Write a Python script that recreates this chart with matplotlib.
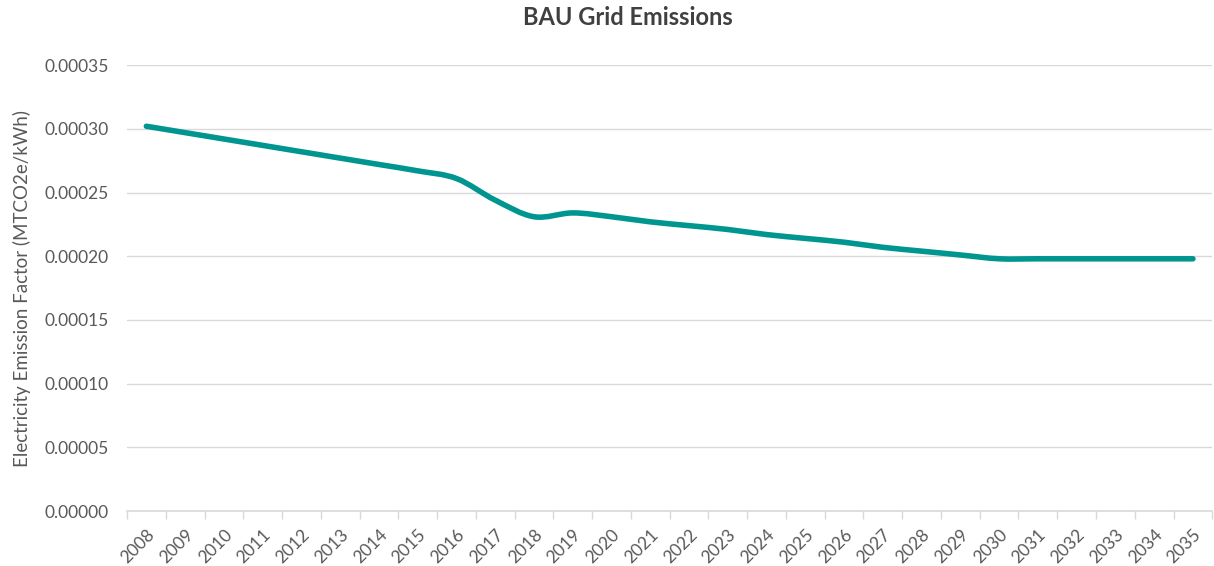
import numpy as np
import matplotlib.pyplot as plt
from matplotlib.path import Path
from matplotlib.patches import PathPatch
from matplotlib.ticker import FuncFormatter

years = list(range(2008, 2036))
emission_factor = [
    0.000302, 0.000297, 0.000292, 0.000287, 0.000282, 0.000277, 0.000272,
    0.000267, 0.000261, 0.000244, 0.000231, 0.000234, 0.000231, 0.000227,
    0.000224, 0.000221, 0.000217, 0.000214, 0.000211, 0.000207, 0.000204,
    0.000201, 0.000198, 0.000198, 0.000198, 0.000198, 0.000198, 0.000198,
]

TEAL = "#00968f"
GRID = "#d9d9d9"
TXT = "#595959"

plt.rcParams["font.family"] = ["Lato", "DejaVu Sans"]


def smooth_path(x, y, t=1.0 / 6):
    # Excel-style smoothed line: cubic Bezier through the points
    pts = np.column_stack([x, y])
    verts = [pts[0]]
    codes = [Path.MOVETO]
    n = len(pts)
    for i in range(n - 1):
        p0 = pts[max(i - 1, 0)]
        p1 = pts[i]
        p2 = pts[i + 1]
        p3 = pts[min(i + 2, n - 1)]
        c1 = p1 + (p2 - p0) * t
        c2 = p2 - (p3 - p1) * t
        verts += [c1, c2, p2]
        codes += [Path.CURVE4] * 3
    return Path(verts, codes)


fig = plt.figure(figsize=(12.14, 5.66), dpi=100)
ax = fig.add_axes([0.1046, 0.097, 0.894, 0.788])

x = np.arange(len(years))
path = smooth_path(x.astype(float), np.array(emission_factor))
ax.add_patch(PathPatch(path, facecolor="none", edgecolor=TEAL, lw=4.0,
                       capstyle="round", joinstyle="round", zorder=3))

ax.set_xlim(-0.5, len(years) - 0.5)
ax.set_ylim(0, 0.00035)
ax.set_yticks(np.arange(0, 0.000351, 0.00005))
ax.yaxis.set_major_formatter(FuncFormatter(lambda v, p: f"{v:.5f}"))
ax.grid(axis="y", color=GRID, lw=1)
ax.set_axisbelow(True)

ax.set_xticks(x)
ax.set_xticklabels([str(yv) for yv in years], rotation=45, ha="right",
                   rotation_mode="anchor")
ax.set_xticks(np.arange(-0.5, len(years), 1), minor=True)
ax.tick_params(axis="x", which="major", length=0, pad=11, labelsize=12.5,
               labelcolor=TXT)
ax.tick_params(axis="x", which="minor", length=6, color=GRID, width=1)
ax.tick_params(axis="y", length=0, pad=13, labelsize=12.5, labelcolor=TXT)

for s in ["left", "right", "top"]:
    ax.spines[s].set_visible(False)
ax.spines["bottom"].set_color(GRID)
ax.spines["bottom"].set_linewidth(1.2)

ax.set_ylabel("Electricity Emission Factor (MTCO2e/kWh)", fontsize=13.5,
              color=TXT, labelpad=10)
fig.suptitle("BAU Grid Emissions", fontsize=17, fontweight="bold",
             color="#404040", x=0.517, y=0.99)

fig.savefig("out.png", dpi=100)
